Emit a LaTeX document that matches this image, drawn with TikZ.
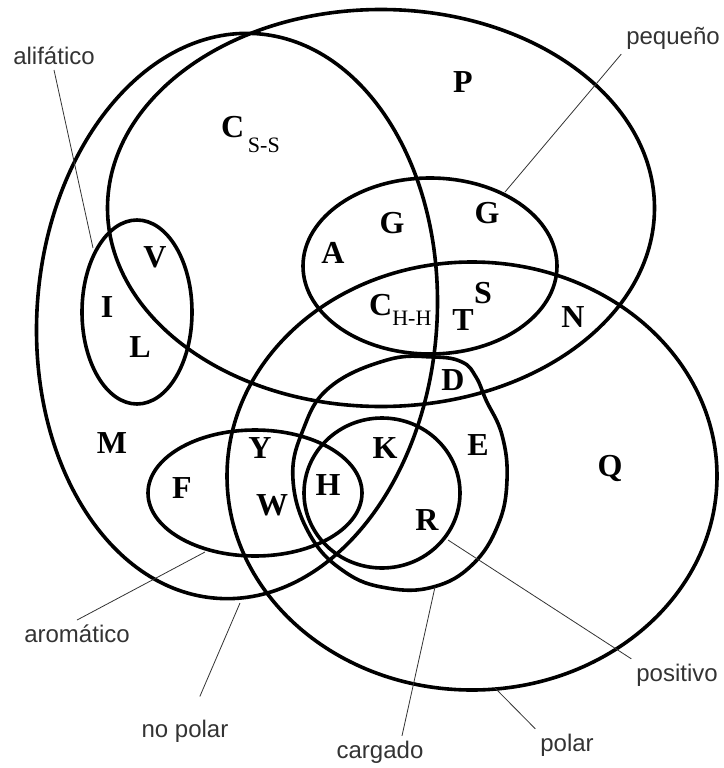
\documentclass[tikz,border=0pt]{standalone}
\usepackage{fontspec}
\setmainfont{Liberation Serif}
\setsansfont{Liberation Sans}
\newcommand\csub[2][12pt]{\raisebox{-#1}{\fontsize{22}{22}\selectfont\mdseries #2}}

\begin{document}
\begin{tikzpicture}[
x=1pt, y=-1pt,
venn/.style={line width=3.6pt},
aa/.style={font=\fontsize{32}{32}\selectfont\bfseries, inner sep=0pt},
lbl/.style={font=\sffamily\fontsize{24}{24}\selectfont, text=black!80, inner sep=1pt, outer sep=4pt},
lead/.style={line width=0.8pt, black!80}
]
\useasboundingbox (0,0) rectangle (723,768);

\draw[venn] (381,208) ellipse (273.5pt and 198.5pt);
\draw[venn, rotate around={-4:(237,316)}] (237,316) ellipse (200pt and 283pt);
\draw[venn] (472,476) ellipse (245pt and 214pt);
\draw[venn] (430,266) ellipse (127pt and 88pt);
\draw[venn] (137,312) ellipse (55pt and 92pt);
\draw[venn] (255,493) ellipse (107pt and 63pt);
\draw[venn] plot[smooth cycle, tension=0.7] coordinates {(330,387) (387,360) (433,357) (462,362) (476,377) (486,400) (502,435) (507,480) (498,525) (472,565) (433,587) (387,588) (345,572) (310,535) (293,480) (303,430)};
\draw[venn] (382,493) ellipse (78pt and 75pt);

\node[aa] (p) at (463,82) {P};
\node[aa, anchor=base west] (css) at (221,137) {C\csub[15pt]{\,S-S}};
\node[aa] (a) at (333,253) {A};
\node[aa] (g1) at (392,223) {G};
\node[aa] (g2) at (487,213) {G};
\node[aa] (v) at (155,257) {V};
\node[aa] (i) at (107,307) {I};
\node[aa] (l) at (140,347) {L};
\node[aa, anchor=base west] (chh) at (369,315) {C\csub[10pt]{H-H}};
\node[aa] (s) at (483,293) {S};
\node[aa] (t) at (463,320) {T};
\node[aa] (n) at (573,317) {N};
\node[aa] (d) at (453,380) {D};
\node[aa] (m) at (112,443) {M};
\node[aa] (f) at (182,488) {F};
\node[aa] (y) at (260,448) {Y};
\node[aa] (w) at (272,505) {W};
\node[aa] (h) at (328,485) {H};
\node[aa] (k) at (385,448) {K};
\node[aa] (e) at (478,445) {E};
\node[aa] (r) at (427,520) {R};
\node[aa] (q) at (610,468) {Q};

\node[lbl] (alif) at (54,56) {alifático};
\node[lbl] (peq) at (673,38) {pequeño};
\node[lbl] (arom) at (77,634) {aromático};
\node[lbl] (nopol) at (185,731) {no polar};
\node[lbl] (carg) at (380,752) {cargado};
\node[lbl] (pol) at (567,745) {polar};
\node[lbl] (posi) at (677,675) {positivo};

\coordinate (alifpt) at (93,248);
\coordinate (peqpt) at (505,192);
\coordinate (arompt) at (205,552);
\coordinate (nopolpt) at (240,603);
\coordinate (cargpt) at (435,587);
\coordinate (polpt) at (495,688);
\coordinate (posipt) at (448,540);

\draw[lead] (alif.south) -- (alifpt);
\draw[lead] (peq.south west) -- (peqpt);
\draw[lead] (arom.north) -- (arompt);
\draw[lead, shorten <=20pt] (nopol) -- (nopolpt);
\draw[lead] ([xshift=22pt]carg.north) -- (cargpt);
\draw[lead] (pol.north west) -- (polpt);
\draw[lead] (posi.north west) -- (posipt);
\end{tikzpicture}
\end{document}
